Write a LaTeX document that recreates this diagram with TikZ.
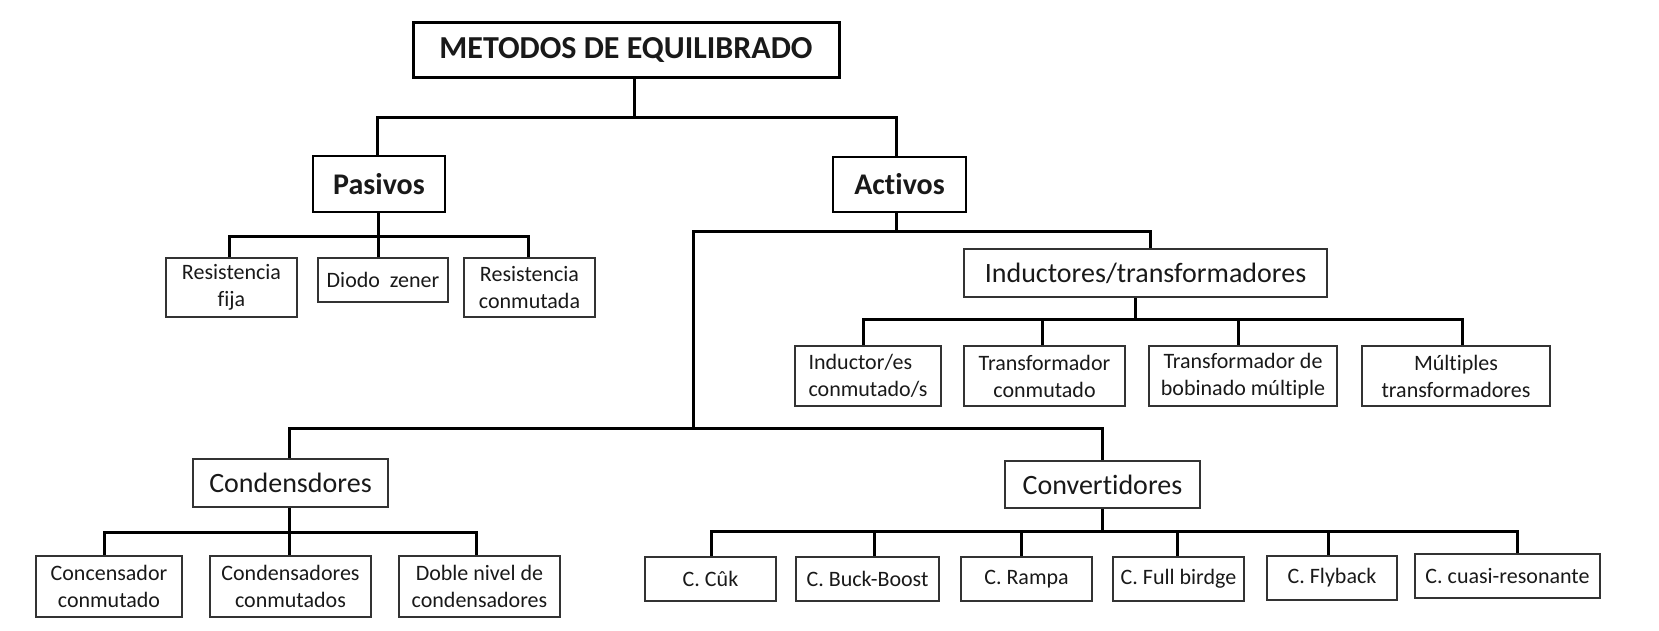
\documentclass[tikz,border=0pt]{standalone}
\usepackage{fontspec}
\setmainfont{Carlito}[Ligatures={NoCommon,NoContextual},RawFeature={-calt}]
\begin{document}
\begin{tikzpicture}[x=0.5pt,y=-0.5pt,
  conn/.style={line width=1.5pt, black, line join=miter},
  topbox/.style={draw=black, line width=1.5pt, inner sep=0pt, font=\fontsize{16}{19}\selectfont\bfseries, text=black!90},
  catbox/.style={draw=black, line width=1.3pt, inner sep=0pt, font=\fontsize{15}{18}\selectfont\bfseries, text=black!90},
  midbox/.style={draw=black!80, line width=1pt, inner sep=0pt, font=\fontsize{14}{17}\selectfont, text=black!90},
  leaf/.style={draw=black!80, line width=1pt, inner sep=0pt, align=center, font=\fontsize{11}{13.5}\selectfont, text=black!90}
]
\useasboundingbox (0,0) rectangle (1659,631);

% nodes
\node[topbox, minimum width=213pt, minimum height=27.5pt] (top) at (626,50.5) {METODOS DE EQUILIBRADO};
\node[catbox, minimum width=66pt, minimum height=28pt] (pas) at (379,184) {Pasivos};
\node[catbox, minimum width=66.5pt, minimum height=27.5pt] (act) at (899.5,184.5) {Activos};

\node[leaf, minimum width=65.5pt, minimum height=29.5pt] (rf) at (231.5,287.5) {Resistencia\\fija};
\node[leaf, minimum width=65pt, minimum height=22pt] (dz) at (383,280) {Diodo\ \ zener};
\node[leaf, minimum width=65.5pt, minimum height=29.5pt] (rc) at (529.5,287.5) {Resistencia\\conmutada};

\node[midbox, minimum width=181.5pt, minimum height=24pt] (ind) at (1145.5,273) {Inductores/transformadores};
\node[leaf, align=left, minimum width=73pt, minimum height=30pt] (ic) at (868,376) {Inductor/es\\conmutado/s};
\node[leaf, minimum width=80.5pt, minimum height=30pt] (tc) at (1044.5,376) {Transformador\\conmutado};
\node[leaf, minimum width=94pt, minimum height=30pt] (tb) at (1243,376) {Transformador de\\bobinado múltiple};
\node[leaf, minimum width=94pt, minimum height=30pt] (mt) at (1456,376) {Múltiples\\transformadores};

\node[midbox, minimum width=97.5pt, minimum height=24pt] (cond) at (290.5,483) {Condensdores};
\node[midbox, minimum width=97.5pt, minimum height=23.5pt] (conv) at (1102.5,484.5) {Convertidores};

\node[leaf, minimum width=73pt, minimum height=30.5pt] (cc) at (109,586.5) {Concensador\\conmutado};
\node[leaf, minimum width=80.5pt, minimum height=30.5pt] (ccs) at (290.5,586.5) {Condensadores\\conmutados};
\node[leaf, minimum width=80.5pt, minimum height=30.5pt] (dn) at (479.5,586.5) {Doble nivel de\\condensadores};

\node[leaf, minimum width=65.5pt, minimum height=22pt] (cuk) at (710.5,579) {C. Cûk};
\node[leaf, minimum width=71.5pt, minimum height=22pt] (bb) at (867.5,579) {C. Buck-Boost};
\node[leaf, minimum width=65.5pt, minimum height=22pt] (ra) at (1026.5,579) {C. Rampa};
\node[leaf, minimum width=65.5pt, minimum height=22pt] (fb) at (1178.5,579) {C. Full birdge};
\node[leaf, minimum width=65pt, minimum height=22pt] (fl) at (1332,578) {C. Flyback};
\node[leaf, minimum width=92.5pt, minimum height=22pt] (cr) at (1507.5,576) {C. cuasi-resonante};

% junctions
\coordinate (j0) at (634,118);
\coordinate (j1) at (378,236);
\coordinate (j2) at (896,231);
\coordinate (j3) at (693,428);
\coordinate (j4) at (1135,319);
\coordinate (j5) at (289,532);
\coordinate (j6) at (1102,531);

% connectors
\draw[conn] (top.south -| j0) -- (j0);
\draw[conn] ([xshift=-1pt]pas.north) |- (j0) -| ([xshift=-1.75pt]act.north);

\draw[conn] (pas.south -| j1) -- (j1);
\draw[conn] ([xshift=-1.25pt]rf.north) |- (j1) -| ([xshift=-0.75pt]rc.north);
\draw[conn] ([xshift=-2.5pt]dz.north) |- (j1);

\draw[conn] (act.south -| j2) -- (j2);
\draw[conn] (j3) |- (j2) -| ([xshift=2.25pt]ind.north);
\draw[conn] ([xshift=-0.75pt]cond.north) |- (j3) -| ([xshift=-0.25pt]conv.north);

\draw[conn] (ind.south -| j4) -- (j4);
\draw[conn] ([xshift=-2.5pt]ic.north) |- (j4) -| ([xshift=3pt]mt.north);
\draw[conn] ([xshift=-1.25pt]tc.north) |- (j4);
\draw[conn] ([xshift=-2.5pt]tb.north) |- (j4);

\draw[conn] (cond.south -| j5) -- (j5);
\draw[conn] ([xshift=-2.5pt]cc.north) |- (j5) -| ([xshift=-1.75pt]dn.north);
\draw[conn] ([xshift=-0.75pt]ccs.north) |- (j5);

\draw[conn] (conv.south -| j6) -- (j6);
\draw[conn] ([xshift=0.25pt]cuk.north) |- (j6) -| ([xshift=4.75pt]cr.north);
\draw[conn] ([xshift=3.25pt]bb.north) |- (j6);
\draw[conn] ([xshift=-2.75pt]ra.north) |- (j6);
\draw[conn] ([xshift=-0.75pt]fb.north) |- (j6);
\draw[conn] ([xshift=-2pt]fl.north) |- (j6);
\end{tikzpicture}
\end{document}
